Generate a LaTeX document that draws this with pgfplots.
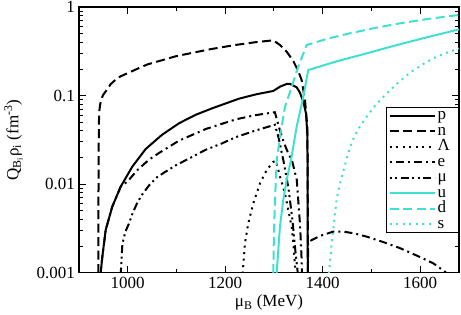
\documentclass[border=0pt]{standalone}
\usepackage{fontspec}
\setmainfont{Liberation Serif}
\usepackage{pgfplots}
\pgfplotsset{compat=1.18}
\usetikzlibrary{calc}
\definecolor{turq}{RGB}{64,224,208}
\begin{document}
\begin{tikzpicture}
\begin{axis}[
  name=ax,
  scale only axis,
  width=380pt, height=265.7pt,
  xmin=900, xmax=1680,
  ymode=log, ymin=0.001, ymax=1,
  xtick={1000,1200,1400,1600},
  xticklabels={1000,1200,1400,1600},
  minor xtick={1100,1300,1500},
  ytick={0.001,0.01,0.1,1},
  yticklabels={0.001,0.01,0.1,1},
  minor ytick={0.002,0.003,0.004,0.005,0.006,0.007,0.008,0.009,0.02,0.03,0.04,0.05,0.06,0.07,0.08,0.09,0.2,0.3,0.4,0.5,0.6,0.7,0.8,0.9},
  tick pos=both,
  tick align=inside,
  major tick length=7pt,
  minor tick length=4pt,
  every tick/.style={black, line width=1pt},
  axis line style={line width=1.3pt},
  /pgf/number format/assume math mode=true,
  tick label style={font=\fontsize{17}{17}\selectfont},
  yticklabel style={inner sep=0pt, xshift=-4pt},
  xticklabel style={inner sep=0pt, yshift=-4pt},
  xlabel={μ\textsubscript{B} (MeV)},
  ylabel={Q\textsubscript{B\textsubscript{i}}ρ\textsubscript{i} (fm\textsuperscript{-3})},
  xlabel style={font=\fontsize{17}{17}\selectfont, at={(axis description cs:0.5,0)}, anchor=base, yshift=-34pt},
  ylabel style={font=\fontsize{17}{17}\selectfont, at={(axis description cs:-0.1597,0.5)}, anchor=base},
  legend style={at={(rel axis cs:1,0.623)}, anchor=north east, draw=black, line width=0.9pt, fill=white,
    font=\fontsize{17}{17}\selectfont, inner xsep=2pt, inner ysep=0.5pt, row sep=0pt, column sep=0pt,
    nodes={inner xsep=2pt, inner ysep=0.4pt, text height=11.2pt, text depth=3.5pt}},
  legend cell align=left,
  legend image code/.code={\draw[#1] (0pt,0pt) -- (45pt,0pt);},
]
% p
\addplot[black, line width=2pt] coordinates {(944.3,0.0007) (944.5,0.001) (947.9,0.00152) (954.8,0.00305) (968.3,0.00559) (985.6,0.0094) (1009.4,0.0158) (1036.9,0.025) (1070,0.036) (1105.3,0.0488) (1140,0.061) (1173.6,0.0721) (1228.4,0.0925) (1265,0.104) (1298.8,0.113) (1312.6,0.1264) (1326.3,0.1355) (1333.1,0.1355) (1346.8,0.1244) (1353.6,0.108) (1360.4,0.0855) (1365.9,0.0633) (1368.6,0.0376) (1369.4,0.0145) (1369.6,0.0005)};
\addlegendentry{\makebox[17pt][l]{p}}
% n
\addplot[black, line width=2pt, dash pattern=on 9pt off 4.5pt] coordinates {(939.5,0.0007) (939.7,0.002) (940.0,0.008) (940.4,0.025) (940.9,0.05) (941.8,0.068) (943.5,0.08) (946,0.092) (950,0.103) (955,0.112) (965,0.135) (980,0.16) (1000,0.18) (1040,0.225) (1100,0.28) (1170,0.335) (1220,0.373) (1260,0.40) (1298.8,0.422) (1312.6,0.373) (1326.3,0.314) (1340,0.245) (1350,0.19) (1357,0.15) (1363.9,0.089) (1368.6,0.045) (1369.5,0.01) (1369.8,0.0005)};
\addlegendentry{\makebox[17pt][l]{n}}
% Lambda
\addplot[black, line width=2pt, dash pattern=on 2pt off 4.5pt] coordinates {(1235.5,0.0007) (1236,0.001) (1240.7,0.00216) (1247.5,0.00363) (1257.8,0.0061) (1271.5,0.01026) (1285.3,0.0145) (1298.8,0.0179) (1304.3,0.0184) (1312.6,0.0122) (1322.8,0.0079) (1329.6,0.0051) (1336.6,0.0033) (1339.9,0.00216) (1343.4,0.00117) (1345.4,0.0007)};
\addlegendentry{\makebox[17pt][l]{Λ}}
% e
\addplot[black, line width=2pt, dash pattern=on 2pt off 4pt on 8pt off 4pt] coordinates {(944.3,0.0007) (944.5,0.001) (947.9,0.00152) (954.8,0.00305) (968.3,0.00559) (985.6,0.0094) (1000,0.0108) (1020,0.0145) (1044,0.019) (1064,0.0225) (1105,0.031) (1160,0.042) (1221.6,0.054) (1260,0.06) (1302,0.065) (1310,0.045) (1320,0.03) (1330,0.022) (1337,0.0188) (1347,0.0112) (1354,0.0033) (1357,0.0014) (1358.5,0.0007)};
\addlegendentry{\makebox[17pt][l]{e}}
% mu
\addplot[black, line width=2pt, dash pattern=on 2pt off 3.5pt on 2pt off 3.5pt on 8pt off 3.5pt] coordinates {(985.3,0.0007) (985.8,0.001) (989,0.0021) (995,0.0029) (1002.6,0.0036) (1010,0.0047) (1019.7,0.0062) (1030,0.0077) (1043.7,0.0097) (1060,0.012) (1078,0.0139) (1100,0.0165) (1125.8,0.0195) (1160,0.0245) (1194,0.029) (1221.6,0.034) (1260,0.04) (1302,0.047) (1310,0.033) (1320,0.018) (1330,0.009) (1338,0.004) (1344,0.0018) (1349,0.001) (1352,0.0006)};
\addlegendentry{\makebox[17pt][l]{μ}}
% u
\addplot[turq, line width=2pt] coordinates {(1305.5,0.0007) (1305.8,0.001) (1312.4,0.0033) (1319.3,0.00665) (1326.3,0.0112) (1335.1,0.0188) (1346.8,0.0447) (1360.4,0.0975) (1370.6,0.195) (1430,0.245) (1490,0.30) (1550,0.37) (1610,0.45) (1680,0.56)};
\addlegendentry{\makebox[17pt][l]{u}}
% d
\addplot[turq, line width=2pt, dash pattern=on 9pt off 4.5pt] coordinates {(1298.5,0.0007) (1298.8,0.001) (1300,0.0025) (1302,0.006) (1304,0.011) (1306,0.019) (1312.6,0.0344) (1322.8,0.075) (1336.6,0.126) (1350,0.212) (1367.2,0.373) (1410,0.44) (1456,0.506) (1510,0.585) (1559,0.656) (1620,0.74) (1680,0.815)};
\addlegendentry{\makebox[17pt][l]{d}}
% s
\addplot[turq, line width=2pt, dash pattern=on 2pt off 4.5pt] coordinates {(1412.9,0.0007) (1413.2,0.001) (1418.7,0.00216) (1428.7,0.00665) (1435.7,0.0103) (1446,0.0165) (1452.7,0.0225) (1460,0.03) (1473,0.042) (1490.5,0.058) (1510,0.08) (1531.6,0.106) (1555,0.14) (1579.4,0.182) (1605,0.225) (1627.2,0.264) (1650,0.3) (1680,0.34)};
\addlegendentry{\makebox[17pt][l]{s}}
% e, second branch
\addplot[black, line width=2pt, dash pattern=on 2pt off 4pt on 8pt off 4pt, forget plot] coordinates {(1369.6,0.0005) (1370.3,0.00223) (1394.7,0.00261) (1422,0.00292) (1442.5,0.00292) (1466,0.00278) (1490.5,0.00256) (1525,0.00222) (1558.9,0.0019) (1595,0.00155) (1627.2,0.00128) (1651.2,0.00103) (1672,0.0008)};
\end{axis}
\pgfresetboundingbox
\useasboundingbox ($(ax.south west)+(-79pt,-41.3pt)$) rectangle ($(ax.north east)+(2pt,7.1pt)$);
\end{tikzpicture}
\end{document}
